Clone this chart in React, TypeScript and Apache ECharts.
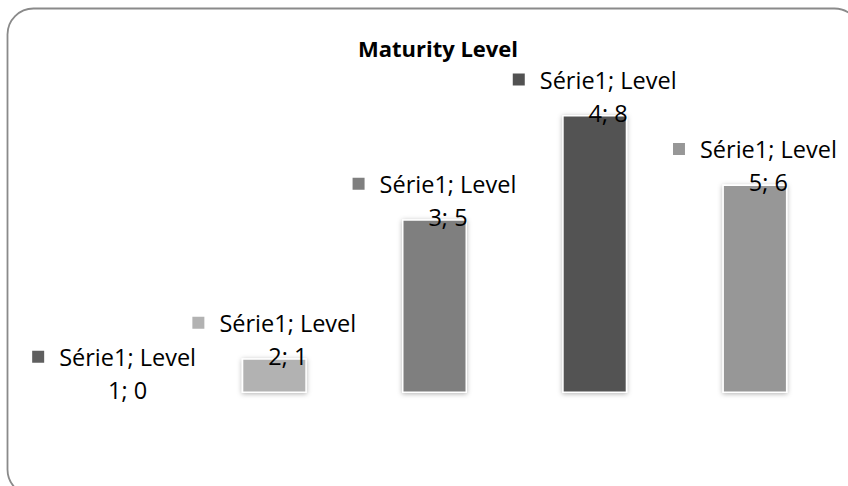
import React, { useEffect, useRef } from "react";
import * as echarts from "echarts";

const chartTitle = "Maturity Level";
const seriesName = "Série1";
const categories = ["Level 1", "Level 2", "Level 3", "Level 4", "Level 5"];
const values = [0, 1, 5, 8, 6];
const barColors = ["#5f5f5f", "#b2b2b2", "#7f7f7f", "#525252", "#979797"];

const FONT = "'Open Sans', 'Noto Sans', sans-serif";

export default function App() {
  const ref = useRef<HTMLDivElement>(null);

  useEffect(() => {
    if (!ref.current) return;
    const chart = echarts.init(ref.current, null, { renderer: "svg" });

    const rich: Record<string, any> = {
      t: { fontFamily: FONT, fontSize: 23.5, color: "#000", padding: [0, 0, 0, 15], lineHeight: 33 },
      t2: { fontFamily: FONT, fontSize: 23.5, color: "#000", padding: [0, 0, 0, 27], lineHeight: 33 },
    };
    barColors.forEach((c, i) => {
      rich["k" + i] = { width: 12, height: 12, backgroundColor: c, fontSize: 10, lineHeight: 33 };
    });

    chart.setOption({
      animation: false,
      backgroundColor: "#ffffff",
      graphic: [
        {
          type: "rect",
          shape: { x: 7.5, y: 8.5, width: 853, height: 487, r: 26 },
          style: { fill: "none", stroke: "#8a8a8a", lineWidth: 1.8 },
          silent: true,
        },
        {
          type: "text",
          x: 438,
          y: 48,
          style: {
            text: chartTitle,
            fontFamily: FONT,
            fontWeight: "bold",
            fontSize: 22,
            fill: "#000",
            align: "center",
            verticalAlign: "middle",
          },
        },
      ],
      grid: { left: 34, right: 13, top: 80.25, bottom: 93, containLabel: false },
      xAxis: {
        type: "category",
        data: categories,
        show: false,
      },
      yAxis: {
        type: "value",
        min: 0,
        max: 9,
        show: false,
        splitLine: { show: false },
      },
      series: [
        {
          name: seriesName,
          type: "bar",
          barWidth: 65,
          data: values.map((v, i) => ({ value: v, itemStyle: { color: barColors[i] } })),
          itemStyle: {
            borderColor: "#ffffff",
            borderWidth: 1.5,
            shadowBlur: 5,
            shadowColor: "rgba(0,0,0,0.3)",
            shadowOffsetY: 1,
          },
          label: {
            show: true,
            position: "top",
            distance: 0,
            offset: [0, 14],
            align: "center",
            formatter: (p: any) => {
              const name: string = p.name;
              const sp = name.lastIndexOf(" ");
              const word = name.slice(0, sp);
              const num = name.slice(sp + 1);
              return `{k${p.dataIndex}| }{t|${seriesName}; ${word}}\n{t2|${num}; ${p.value}}`;
            },
            rich,
          },
        },
      ],
    });

    return () => chart.dispose();
  }, []);

  return (
    <div
      ref={ref}
      style={{ position: "absolute", left: 0, top: 0, width: 848, height: 486, background: "#fff", overflow: "hidden" }}
    />
  );
}
